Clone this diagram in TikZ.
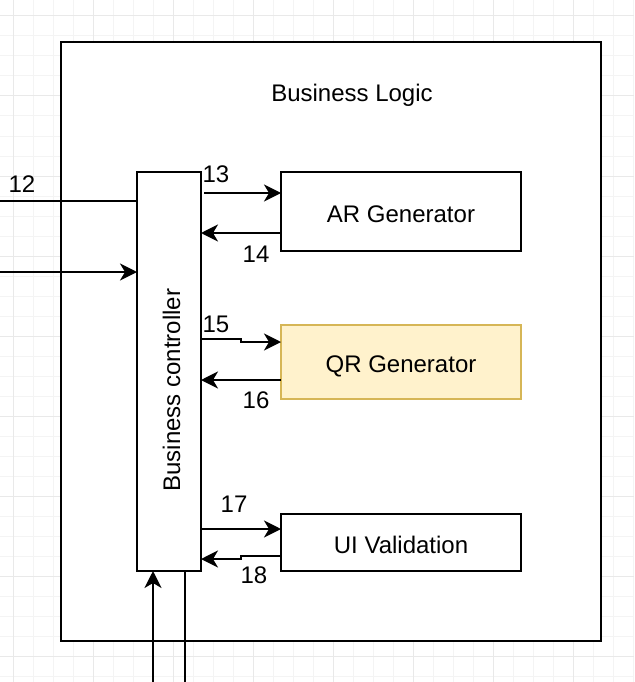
\documentclass[tikz,border=0pt]{standalone}
\usepackage{fontspec}
\setmainfont{Liberation Sans}
\usetikzlibrary{arrows.meta}
\definecolor{gridlight}{HTML}{F4F4F4}
\definecolor{griddark}{HTML}{E9E9E9}
\definecolor{qrfill}{HTML}{FFF2CC}
\definecolor{qrdraw}{HTML}{D6B656}
\tikzset{
  box/.style={draw=black, line width=2pt, fill=white, inner sep=0pt, outer sep=0pt, anchor=north west, text height=21pt, text depth=0pt},
  lbl/.style={inner sep=0pt, anchor=base},
  wire/.style={line width=2pt, draw=black},
  arr/.style={wire, -{Stealth[length=17pt,width=17pt,inset=5pt]}},
}
\begin{document}
\begin{tikzpicture}[x=1pt,y=-1pt,font=\fontsize{24}{28}\selectfont]
\useasboundingbox (0,0) rectangle (634,682);
\fill[white] (0,0) rectangle (634,682);
% grid
\foreach \i in {0,...,31} {
  \draw[gridlight, line width=1pt] ({13+20*\i},0) -- ({13+20*\i},682);
}
\foreach \i in {0,...,33} {
  \draw[gridlight, line width=1pt] (0,{16+20*\i}) -- (634,{16+20*\i});
}
\foreach \i in {0,...,7} {
  \draw[griddark, line width=1pt] ({13+80*\i},0) -- ({13+80*\i},682);
}
\foreach \i in {0,...,8} {
  \draw[griddark, line width=1pt] (0,{16+80*\i}) -- (634,{16+80*\i});
}
% outer box
\node[box, minimum width=540pt, minimum height=599pt] (outer) at (61,42) {};
\node[lbl] (title) at (352,102) {Business Logic};
% controller
\node[box, minimum width=64pt, minimum height=399pt] (ctrl) at (137,172) {};
\node[rotate=90, inner sep=0pt, anchor=base] (ctrltext) at (180,390) {Business controller};
% modules
\node[box, minimum width=240pt, minimum height=79pt] (ar) at (281,172) {AR Generator};
\node[box, fill=qrfill, draw=qrdraw, minimum width=240pt, minimum height=74pt] (qr) at (281,325) {QR Generator};
\node[box, minimum width=240pt, minimum height=57pt] (ui) at (281,514) {UI Validation};
% free ends
\coordinate (in12) at (0,201);
\coordinate (in2) at (0,272);
\coordinate (s13) at (204,193);
\coordinate (b15) at (241,339);
\coordinate (b18) at (241,556);
\coordinate (bin) at (153,682);
\coordinate (bout) at (185,682);
% connectors
\draw[wire] (in12) -- (ctrl.west |- in12);
\draw[arr] (in2) -- (ctrl.west |- in2);
\draw[arr] (s13) -- (ar.west |- s13);
\draw[arr] (ar.west |- 0,233) -- (ctrl.east |- 0,233);
\draw[arr] (ctrl.east |- b15) -- (b15) -- ++(0,3) -- (qr.west |- 0,342);
\draw[arr] (qr.west |- 0,380) -- (ctrl.east |- 0,380);
\draw[arr] (ctrl.east |- 0,529) -- (ui.west |- 0,529);
\draw[arr] (ui.west |- b18) -- (b18) -- ++(0,3) -- (ctrl.east |- 0,559);
\draw[arr] (bin) -- (ctrl.south -| bin);
\draw[wire] (ctrl.south -| bout) -- (bout);
% labels
\node[lbl] (l12) at (22,192) {12};
\node[lbl] (l13) at (216,182) {13};
\node[lbl] (l14) at (256,262) {14};
\node[lbl] (l15) at (216,332) {15};
\node[lbl] (l16) at (256,408) {16};
\node[lbl] (l17) at (234,512) {17};
\node[lbl] (l18) at (254,583) {18};
\end{tikzpicture}
\end{document}
